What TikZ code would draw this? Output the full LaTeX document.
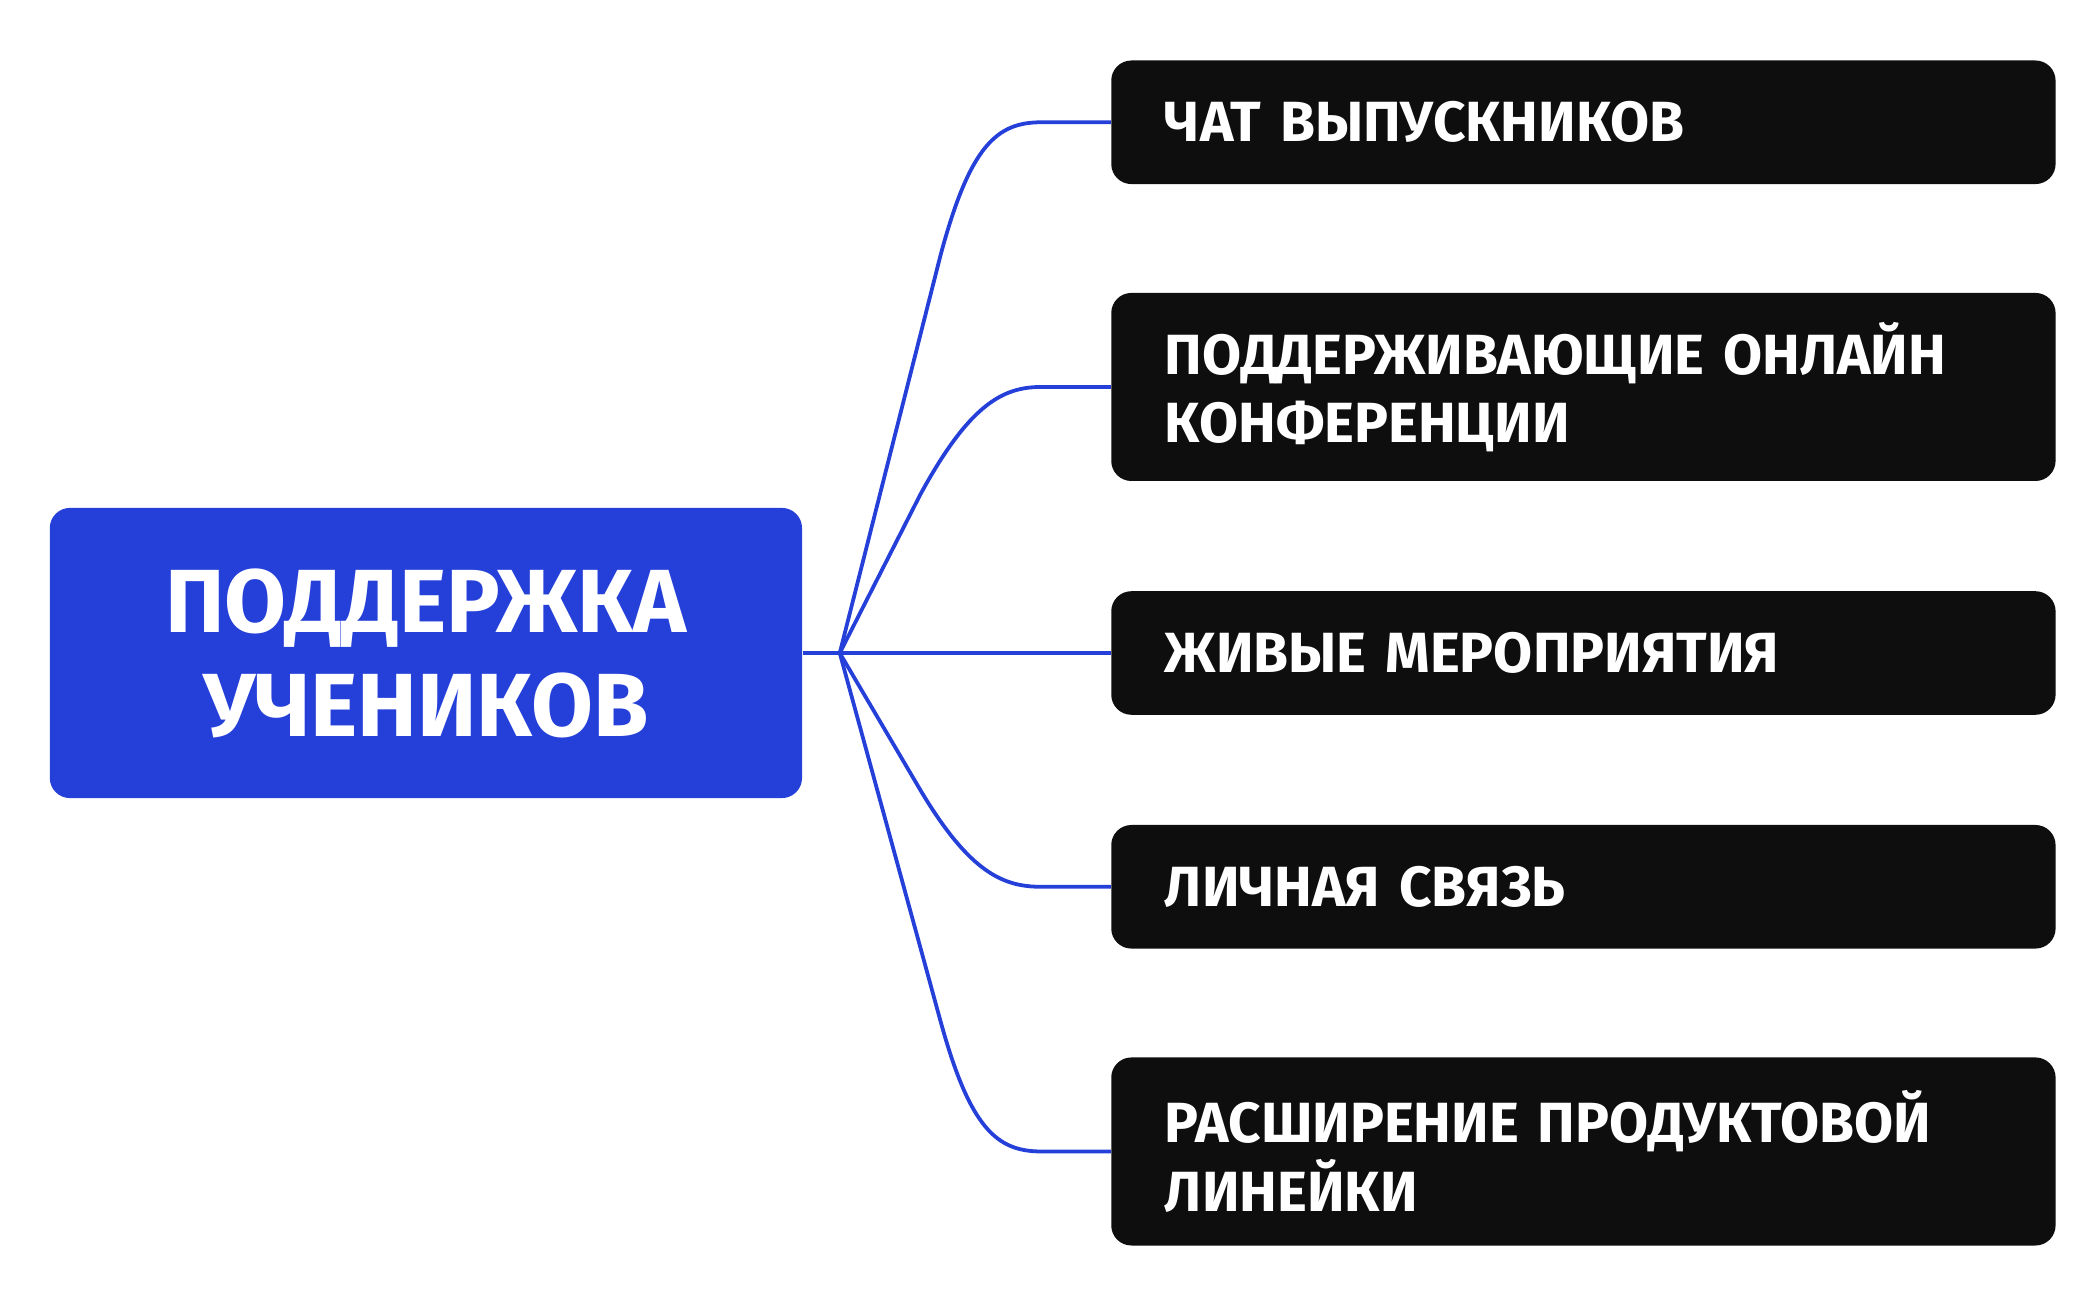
\documentclass[tikz,border=0pt]{standalone}
\usepackage{fontspec}
\setmainfont{Fira Sans}
\usetikzlibrary{positioning}
\definecolor{hubblue}{HTML}{2540D9}
\definecolor{boxblack}{HTML}{0E0E0E}
\tikzset{
  mainbox/.style={fill=hubblue, rounded corners=0.3cm, text=white, align=center,
    minimum width=11.2cm, minimum height=4.32cm, font=\fontsize{38}{44}\selectfont\bfseries},
  itembox/.style={fill=boxblack, rounded corners=0.3cm, text=white, align=left,
    text width=12.46cm, inner xsep=0.8cm, font=\fontsize{24}{29}\selectfont\bfseries},
  link/.style={draw=hubblue, line width=1.6pt}
}
\begin{document}
\begin{tikzpicture}[x=0.02cm,y=-0.02cm]
\useasboundingbox (0,0) rectangle (1560,968);

\node[mainbox] (main) at (317,486) {ПОДДЕРЖКА\\УЧЕНИКОВ};
\node[itembox, minimum height=1.84cm] (b1) at (1178.5,91) {ЧАТ ВЫПУСКНИКОВ};
\node[itembox, minimum height=2.8cm] (b2) at (1178.5,288) {ПОДДЕРЖИВАЮЩИЕ ОНЛАЙН\\КОНФЕРЕНЦИИ};
\node[itembox, minimum height=1.84cm] (b3) at (1178.5,486) {ЖИВЫЕ МЕРОПРИЯТИЯ};
\node[itembox, minimum height=1.84cm] (b4) at (1178.5,660) {ЛИЧНАЯ СВЯЗЬ};
\node[itembox, minimum height=2.8cm] (b5) at (1178.5,857) {РАСШИРЕНИЕ ПРОДУКТОВОЙ\\ЛИНЕЙКИ};

\coordinate (hub) at (625,486);
\draw[link] (main.east) -- (hub);
\draw[link] (hub) -- (700,190) .. controls (722,108) and (742,91) .. (775,91) -- (b1.west);
\draw[link] (hub) -- (685,368) .. controls (722,300) and (747,288) .. (775,288) -- (b2.west);
\draw[link] (hub) -- (b3.west);
\draw[link] (hub) -- (685,588) .. controls (722,650) and (747,660) .. (775,660) -- (b4.west);
\draw[link] (hub) -- (700,760) .. controls (722,840) and (742,857) .. (775,857) -- (b5.west);
\end{tikzpicture}
\end{document}
